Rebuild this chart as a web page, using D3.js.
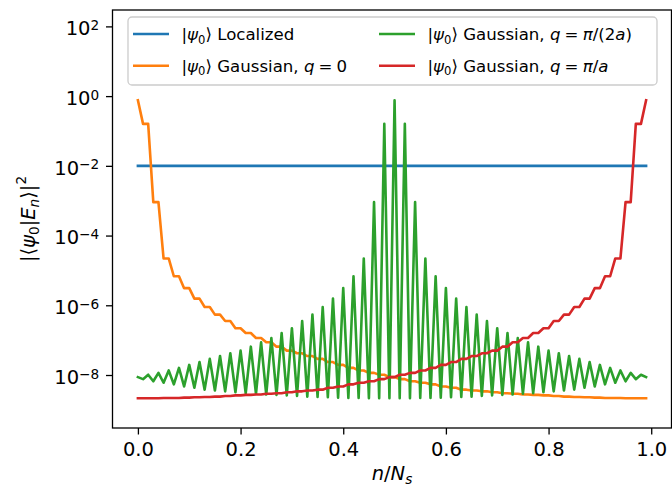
<!DOCTYPE html>
<html>
<head>
<meta charset="utf-8">
<script src="https://cdn.jsdelivr.net/npm/d3@7/dist/d3.min.js"></script>
<style>
  body { margin: 0; background: #fff; }
  svg { display: block; font-family: "DejaVu Sans", sans-serif; }
</style>
</head>
<body>
<div id="chart"></div>
<script>
// Define svg width and height
var svgWidth = 672;
var svgHeight = 486;
// Axes box (pixels inside the svg)
var margin = { top: 10, right: 0.5, bottom: 58, left: 112.5 };
var width = svgWidth - margin.left - margin.right;
var height = svgHeight - margin.top - margin.bottom;

// ---------------------------------------- //
// DATA, x = n / N_s with N_s = 100
var nOverNs = d3.range(100).map(n => n / 100);

// |psi0> localized : flat at 1/N_s
var localized = d3.range(100).map(() => 1e-2);

// |psi0> Gaussian, q = 0
var gaussQ0 = [7.6e-1, 1.6e-1, 1.6e-1, 9.1e-4, 9.1e-4, 2.2e-5, 2.2e-5, 6.8e-6, 6.8e-6, 3.1e-6,
  3.1e-6, 1.55e-6, 1.55e-6, 8.9e-7, 8.9e-7, 5.4e-7, 5.4e-7, 3.55e-7, 3.55e-7, 2.2e-7,
  2.2e-7, 1.6e-7, 1.6e-7, 1.15e-7, 1.15e-7, 8.7e-8, 8.7e-8, 6.5e-8, 6.5e-8, 5.0e-8,
  5.0e-8, 4.2e-8, 4.2e-8, 3.5e-8, 3.5e-8, 2.9e-8, 2.9e-8, 2.35e-8, 2.35e-8, 1.95e-8,
  1.95e-8, 1.6e-8, 1.6e-8, 1.35e-8, 1.35e-8, 1.15e-8, 1.15e-8, 1.02e-8, 1.02e-8, 8.7e-9,
  8.7e-9, 7.6e-9, 7.6e-9, 6.6e-9, 6.6e-9, 6.0e-9, 6.0e-9, 5.4e-9, 5.4e-9, 4.7e-9,
  4.7e-9, 4.3e-9, 4.3e-9, 3.8e-9, 3.8e-9, 3.6e-9, 3.6e-9, 3.4e-9, 3.4e-9, 3.2e-9,
  3.2e-9, 3.0e-9, 3.0e-9, 2.9e-9, 2.9e-9, 2.75e-9, 2.75e-9, 2.7e-9, 2.7e-9, 2.6e-9,
  2.6e-9, 2.5e-9, 2.5e-9, 2.4e-9, 2.4e-9, 2.35e-9, 2.35e-9, 2.3e-9, 2.3e-9, 2.25e-9,
  2.25e-9, 2.2e-9, 2.2e-9, 2.2e-9, 2.2e-9, 2.15e-9, 2.15e-9, 2.15e-9, 2.15e-9, 2.15e-9];

// |psi0> Gaussian, q = pi/(2a)
var gaussQhalf = [8.7e-9, 7.6e-9, 1.02e-8, 6.6e-9, 1.15e-8, 6.0e-9, 1.35e-8, 5.4e-9, 1.6e-8, 4.7e-9,
  1.95e-8, 4.3e-9, 2.35e-8, 3.8e-9, 2.9e-8, 3.6e-9, 3.5e-8, 3.4e-9, 4.2e-8, 3.2e-9,
  5.0e-8, 3.0e-9, 6.5e-8, 2.9e-9, 8.7e-8, 2.75e-9, 1.15e-7, 2.7e-9, 1.6e-7, 2.6e-9,
  2.2e-7, 2.5e-9, 3.55e-7, 2.4e-9, 5.4e-7, 2.35e-9, 8.9e-7, 2.3e-9, 1.55e-6, 2.25e-9,
  3.1e-6, 2.2e-9, 6.8e-6, 2.2e-9, 2.2e-5, 2.15e-9, 9.1e-4, 2.15e-9, 1.6e-1, 2.15e-9,
  7.6e-1, 2.15e-9, 1.6e-1, 2.15e-9, 9.1e-4, 2.2e-9, 2.2e-5, 2.2e-9, 6.8e-6, 2.25e-9,
  3.1e-6, 2.3e-9, 1.55e-6, 2.35e-9, 8.9e-7, 2.4e-9, 5.4e-7, 2.5e-9, 3.55e-7, 2.6e-9,
  2.2e-7, 2.7e-9, 1.6e-7, 2.75e-9, 1.15e-7, 2.9e-9, 8.7e-8, 3.0e-9, 6.5e-8, 3.2e-9,
  5.0e-8, 3.4e-9, 4.2e-8, 3.6e-9, 3.5e-8, 3.8e-9, 2.9e-8, 4.3e-9, 2.35e-8, 4.7e-9,
  1.95e-8, 5.4e-9, 1.6e-8, 6.0e-9, 1.35e-8, 6.6e-9, 1.15e-8, 7.6e-9, 1.02e-8, 8.7e-9];

// |psi0> Gaussian, q = pi/a
var gaussQpi = [2.15e-9, 2.15e-9, 2.15e-9, 2.15e-9, 2.15e-9, 2.2e-9, 2.2e-9, 2.2e-9, 2.2e-9, 2.25e-9,
  2.25e-9, 2.3e-9, 2.3e-9, 2.35e-9, 2.35e-9, 2.4e-9, 2.4e-9, 2.5e-9, 2.5e-9, 2.6e-9,
  2.6e-9, 2.7e-9, 2.7e-9, 2.75e-9, 2.75e-9, 2.9e-9, 2.9e-9, 3.0e-9, 3.0e-9, 3.2e-9,
  3.2e-9, 3.4e-9, 3.4e-9, 3.6e-9, 3.6e-9, 3.8e-9, 3.8e-9, 4.3e-9, 4.3e-9, 4.7e-9,
  4.7e-9, 5.4e-9, 5.4e-9, 6.0e-9, 6.0e-9, 6.6e-9, 6.6e-9, 7.6e-9, 7.6e-9, 8.7e-9,
  8.7e-9, 1.02e-8, 1.02e-8, 1.15e-8, 1.15e-8, 1.35e-8, 1.35e-8, 1.6e-8, 1.6e-8, 1.95e-8,
  1.95e-8, 2.35e-8, 2.35e-8, 2.9e-8, 2.9e-8, 3.5e-8, 3.5e-8, 4.2e-8, 4.2e-8, 5.0e-8,
  5.0e-8, 6.5e-8, 6.5e-8, 8.7e-8, 8.7e-8, 1.15e-7, 1.15e-7, 1.6e-7, 1.6e-7, 2.2e-7,
  2.2e-7, 3.55e-7, 3.55e-7, 5.4e-7, 5.4e-7, 8.9e-7, 8.9e-7, 1.55e-6, 1.55e-6, 3.1e-6,
  3.1e-6, 6.8e-6, 6.8e-6, 2.2e-5, 2.2e-5, 9.1e-4, 9.1e-4, 1.6e-1, 1.6e-1, 7.6e-1];

// Tick values
var xTicks = [0, 0.2, 0.4, 0.6, 0.8, 1.0];
var yTickExps = [-8, -6, -4, -2, 0, 2];

// Series (drawing order) and legend labels
var series = [
  { values: localized,  color: "#1f77b4" },
  { values: gaussQ0,    color: "#ff7f0e" },
  { values: gaussQhalf, color: "#2ca02c" },
  { values: gaussQpi,   color: "#d62728" }
];
var eq = "\u2005=\u2005";
var ket = [{ t: "|" }, { t: "ψ", it: true }, { t: "0", sub: true }, { t: "⟩ " }];
var legendLabels = [
  ket.concat([{ t: "Localized" }]),
  ket.concat([{ t: "Gaussian, " }, { t: "q", it: true }, { t: eq + "0" }]),
  ket.concat([{ t: "Gaussian, " }, { t: "q", it: true }, { t: eq }, { t: "π", it: true }, { t: "/(2" }, { t: "a", it: true }, { t: ")" }]),
  ket.concat([{ t: "Gaussian, " }, { t: "q", it: true }, { t: eq }, { t: "π", it: true }, { t: "/" }, { t: "a", it: true }])
];

// ---------------------------------------- //
// helper - write text with italic / sub / sup pieces as tspans
function mathText(sel, parts, size) {
  var shift = 0;
  parts.forEach(function(p) {
    var s = p.sub ? size * 0.2 : p.sup ? -size * (p.raise || 0.4) : 0;
    var ts = sel.append("tspan")
      .attr("dy", s - shift)
      .style("font-size", (p.sub || p.sup ? size * 0.7 : size) + "px")
      .text(p.t);
    if (p.it) ts.style("font-style", "italic");
    shift = s;
  });
}

var svg = d3.select("#chart")
  .append("svg")
  .attr("width", svgWidth)
  .attr("height", svgHeight);

var chartGroup = svg.append("g")
  .attr("transform", `translate(${margin.left}, ${margin.top})`);

// scales (matplotlib-like autoscale margins on x)
var xScale = d3.scaleLinear()
  .domain([-0.0495, 1.0395])
  .range([0, width]);
var yScale = d3.scaleLog()
  .domain([Math.pow(10, -9.52), Math.pow(10, 2.47)])
  .range([height, 0]);

var tickFont = 19.5;

// x axis
var xAxis = chartGroup.append("g")
  .attr("transform", `translate(0, ${height})`)
  .call(d3.axisBottom(xScale).tickValues(xTicks).tickFormat(d3.format(".1f"))
    .tickSize(6.5).tickSizeOuter(0));
xAxis.select(".domain").remove();
xAxis.selectAll("line").attr("stroke", "#000").attr("stroke-width", 1.3);
xAxis.selectAll("text")
  .attr("y", 27.5).attr("dy", 0)
  .attr("fill", "#000")
  .style("font-size", tickFont + "px")
  .style("font-family", "DejaVu Sans");

// y axis
var yAxis = chartGroup.append("g")
  .call(d3.axisLeft(yScale).tickValues(yTickExps.map(e => Math.pow(10, e)))
    .tickSize(6.5).tickPadding(6.8).tickSizeOuter(0).tickFormat(""));
yAxis.select(".domain").remove();
yAxis.selectAll("line").attr("stroke", "#000").attr("stroke-width", 1.3);
yAxis.selectAll(".tick text").each(function(d) {
  var e = Math.round(Math.log10(d));
  var t = d3.select(this)
    .attr("y", 8.3).attr("dy", 0)
    .attr("fill", "#000")
    .style("font-family", "DejaVu Sans")
    .text(null);
  mathText(t, [{ t: "10" }, { t: (e < 0 ? "−" : "") + Math.abs(e), sup: true, raise: 0.27 }], tickFont);
});

// lines
var line = d3.line()
  .x((d, i) => xScale(nOverNs[i]))
  .y(d => yScale(d));

chartGroup.selectAll(".series")
  .data(series)
  .enter()
  .append("path")
  .attr("class", "series")
  .attr("d", d => line(d.values))
  .attr("fill", "none")
  .attr("stroke", d => d.color)
  .attr("stroke-width", 2.6)
  .attr("stroke-linejoin", "round")
  .attr("stroke-linecap", "square");

// spines
chartGroup.append("rect")
  .attr("width", width)
  .attr("height", height)
  .attr("fill", "none")
  .attr("stroke", "#000")
  .attr("stroke-width", 1.3);

// legend (2 columns, column-major like matplotlib)
var legend = svg.append("g");
legend.append("rect")
  .attr("x", 128).attr("y", 17)
  .attr("width", 529).attr("height", 68)
  .attr("rx", 4)
  .attr("fill", "#fff").attr("fill-opacity", 0.8)
  .attr("stroke", "#cccccc").attr("stroke-width", 1.3);

var legendFont = 16.6;
var colX = [133, 379];
var rowY = [34, 65.7];
legendLabels.forEach(function(parts, i) {
  var cx = colX[Math.floor(i / 2)];
  var cy = rowY[i % 2];
  legend.append("line")
    .attr("x1", cx).attr("x2", cx + 36)
    .attr("y1", cy).attr("y2", cy)
    .attr("stroke", series[i].color)
    .attr("stroke-width", 2.6);
  var t = legend.append("text")
    .attr("x", cx + 48.5)
    .attr("y", cy + 6.4)
    .attr("fill", "#000");
  mathText(t, parts, legendFont);
});

// x label
var xl = svg.append("text")
  .attr("x", margin.left + width / 2)
  .attr("y", 480)
  .attr("text-anchor", "middle")
  .attr("fill", "#000");
mathText(xl, [{ t: "n", it: true }, { t: "/" }, { t: "N", it: true }, { t: "s", it: true, sub: true }], tickFont);

// y label
var yl = svg.append("text")
  .attr("transform", `translate(35, ${margin.top + height / 2}) rotate(-90)`)
  .attr("text-anchor", "middle")
  .attr("fill", "#000");
mathText(yl, [{ t: "|⟨" }, { t: "ψ", it: true }, { t: "0", sub: true }, { t: "|" },
  { t: "E", it: true }, { t: "n", it: true, sub: true }, { t: "⟩|" }, { t: "2", sup: true, raise: 0.45 }], tickFont);
</script>
</body>
</html>
